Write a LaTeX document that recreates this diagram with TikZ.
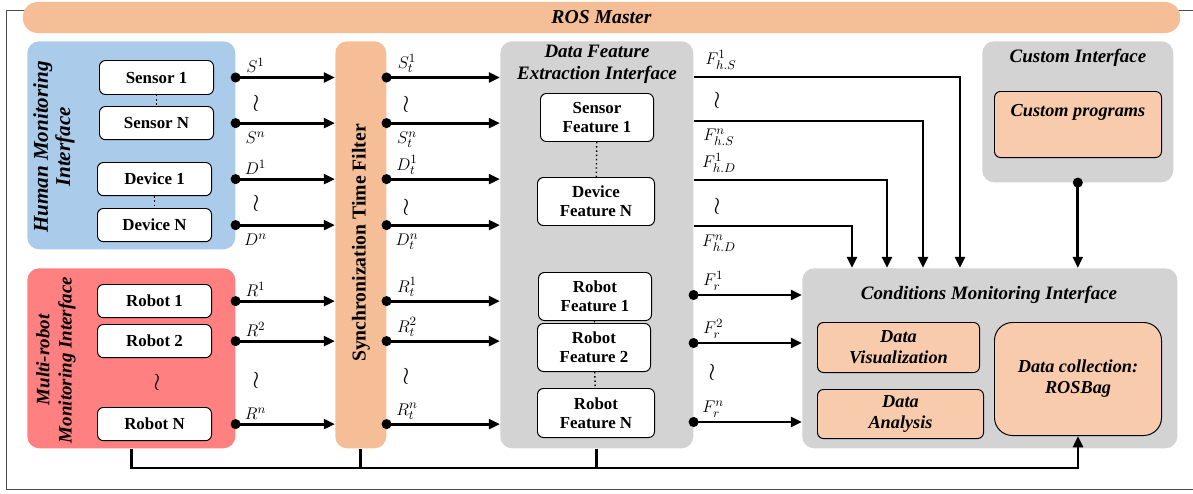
\documentclass[tikz,border=0pt]{standalone}
\usepackage{fontspec}
\setmainfont{Liberation Serif}
\usetikzlibrary{arrows.meta}

\definecolor{rospeach}{RGB}{245,190,150}
\definecolor{boxpeach}{RGB}{248,203,173}
\definecolor{hmiblue}{RGB}{170,204,234}
\definecolor{mrired}{RGB}{255,128,128}
\definecolor{ifgray}{RGB}{211,211,211}

\begin{document}
\begin{tikzpicture}[x=0.025cm, y=-0.025cm,
  grp/.style={rounded corners=0.3cm, anchor=north west, inner sep=0pt},
  item/.style={draw, line width=0.7pt, rounded corners=0.15cm, fill=white, anchor=north west, inner sep=0pt, align=center, font=\fontsize{12}{13.5}\selectfont\bfseries},
  task/.style={item, fill=boxpeach, font=\fontsize{13}{15}\selectfont\bfseries\itshape},
  title/.style={font=\fontsize{13.5}{15.5}\selectfont\bfseries\itshape, align=center},
  sig/.style={font=\fontsize{13}{14}\selectfont, inner sep=2.5pt},
  lup/.style={above},
  ldn/.style={below=3pt},
  gap/.style={font=\fontsize{16}{16}\selectfont, inner sep=0pt},
  wire/.style={line width=2pt, -{Triangle[length=8pt,width=7pt]}},
  sigline/.style={wire, {Circle[length=7pt]}-{Triangle[length=8pt,width=7pt]}, shorten <=-3.5pt},
  bus/.style={line width=2pt}
]
\useasboundingbox (0,0) rectangle (1193,494);
% outer frame and ROS master
\draw[black!70, line width=0.7pt] (1215,10) -- (6,10) -- (6,489) -- (1215,489);
\node[fill=rospeach, rounded corners=0.38cm, minimum width=28.93cm, minimum height=0.775cm, inner sep=0pt, font=\fontsize{14}{16}\selectfont\bfseries\itshape] (ros) at (601.5,17.5) {ROS Master};

% human monitoring interface
\node[grp, fill=hmiblue, minimum width=5.2cm, minimum height=5.2cm] (hmi) at (27,41) {};
\node[title, rotate=90, font=\fontsize{15}{15.8}\selectfont\bfseries\itshape] (hmilab) at (54,147) {Human Monitoring\\Interface};
\node[item, minimum width=2.85cm, minimum height=0.85cm] (sen1) at (99,60) {Sensor 1};
\node[item, minimum width=2.85cm, minimum height=0.83cm] (senN) at (99,106) {Sensor N};
\node[item, minimum width=2.85cm, minimum height=0.83cm] (dev1) at (97,162) {Device 1};
\node[item, minimum width=2.85cm, minimum height=0.83cm] (devN) at (97,208) {Device N};
\draw[dotted, line width=1pt] (sen1) -- (senN);
\draw[dotted, line width=1pt] (dev1) -- (devN);

% multi-robot monitoring interface
\node[grp, fill=mrired, minimum width=5.2cm, minimum height=4.5cm] (mri) at (27,268) {};
\node[title, rotate=90, font=\fontsize{13.5}{15.8}\selectfont\bfseries\itshape] (mrilab) at (56,360) {Multi-robot\\Monitoring Interface};
\node[item, minimum width=2.85cm, minimum height=0.83cm] (rob1) at (97,284) {Robot 1};
\node[item, minimum width=2.85cm, minimum height=0.83cm] (rob2) at (97,324) {Robot 2};
\node[item, minimum width=2.85cm, minimum height=0.83cm] (robN) at (97,407) {Robot N};

% synchronization filter
\node[grp, fill=rospeach, minimum width=1.275cm, minimum height=10.175cm] (sync) at (335,41) {};
\node[rotate=90, font=\fontsize{14}{16}\selectfont\bfseries] (synclab) at (361,243) {Synchronization Time Filter};

% data feature extraction
\node[grp, fill=ifgray, minimum width=4.825cm, minimum height=10.175cm] (dfe) at (500,41) {};
\node[title] (dfelab) at (597,64) {Data Feature\\Extraction Interface};
\node[item, minimum width=2.825cm, minimum height=1.2cm] (fsen1) at (540,93) {Sensor\\Feature 1};
\node[item, minimum width=2.925cm, minimum height=1.2cm] (fdevN) at (537,177) {Device\\Feature N};
\node[item, minimum width=2.825cm, minimum height=1.2cm] (frob1) at (538,272) {Robot\\Feature 1};
\node[item, minimum width=2.825cm, minimum height=1.2cm] (frob2) at (537,323) {Robot\\Feature 2};
\node[item, minimum width=2.925cm, minimum height=1.225cm] (frobN) at (537,388) {Robot\\Feature N};
\draw[dotted, line width=1pt] (fsen1) -- (fdevN);
\draw[dotted, line width=1pt] (frob1) -- (frob2);
\draw[dotted, line width=1pt] (frob2) -- (frobN);

% custom interface
\node[grp, fill=ifgray, minimum width=4.775cm, minimum height=3.525cm] (ci) at (982,41) {};
\node[title] (cilab) at (1078,58) {Custom Interface};
\node[task, minimum width=4.175cm, minimum height=1.65cm] (cprog) at (994,91) {};
\node[title, font=\fontsize{13}{15}\selectfont\bfseries\itshape] (cproglab) at (1078,112) {Custom programs};

% conditions monitoring interface
\node[grp, fill=ifgray, minimum width=9.375cm, minimum height=4.5cm] (cmi) at (802,268) {};
\node[title] (cmilab) at (989,295) {Conditions Monitoring Interface};
\node[task, minimum width=4.05cm, minimum height=1.25cm] (dvis) at (817,322) {Data\\Visualization};
\node[task, minimum width=4.15cm, minimum height=1.225cm] (dana) at (817,389) {Data\\Analysis};
\node[task, rounded corners=0.45cm, minimum width=4.175cm, minimum height=2.825cm] (dcol) at (994,322) {Data collection:\\ROSBag};

% signals into the filter
\foreach \n/\t/\p in {sen1/S^1/lup, senN/S^n/ldn, dev1/D^1/lup, devN/D^n/ldn, rob1/R^1/lup, rob2/R^2/lup, robN/R^n/lup}
  \draw[sigline] (\n -| hmi.east) -- (\n -| sync.west) node[sig, pos=0.2, \p] {$\t$};
% filtered signals
\foreach \n/\t/\p in {sen1/S^1_t/lup, senN/S^n_t/ldn, dev1/D^1_t/lup, devN/D^n_t/ldn, rob1/R^1_t/lup, rob2/R^2_t/lup, robN/R^n_t/lup}
  \draw[sigline] (\n -| sync.east) -- (\n -| dfe.west) node[sig, pos=0.18, \p] {$\t$};

% human features to conditions monitoring
\coordinate (fhs1) at (0,77);
\coordinate (fhsn) at (0,121);
\coordinate (fhd1) at (0,180);
\coordinate (fhdn) at (0,226);
\coordinate (drop1) at (960,0);
\coordinate (drop2) at (923,0);
\coordinate (drop3) at (887,0);
\coordinate (drop4) at (852,0);
\foreach \r/\c in {fhs1/drop1, fhsn/drop2, fhd1/drop3, fhdn/drop4}
  \draw[wire] (\r -| dfe.east) -| (\c |- cmi.north);
\node[sig] (lfhs1) at (721,60) {$F^{1}_{h.S}$};
\node[sig] (lfhsn) at (719,137) {$F^{n}_{h.S}$};
\node[sig] (lfhd1) at (719,163) {$F^{1}_{h.D}$};
\node[sig] (lfhdn) at (719,243) {$F^{n}_{h.D}$};

% robot features
\coordinate (fr1) at (0,295);
\coordinate (fr2) at (0,343);
\coordinate (frn) at (0,422);
\foreach \r/\t in {fr1/F^1_r, fr2/F^2_r, frn/F^n_r}
  \draw[sigline] (\r -| dfe.east) -- (\r -| cmi.west) node[sig, pos=0.18, above] {$\t$};

% custom programs
\draw[sigline] (ci.south) -- (ci.south |- cmi.north);

% bottom bus to ROSBag
\coordinate (busrow) at (0,468);
\draw[wire] (mri.south) |- (busrow -| dcol.south) -- (dcol.south);
\draw[bus] (sync.south) -- (sync.south |- busrow);
\draw[bus] (dfe.south) -- (dfe.south |- busrow);

% omitted entries
\foreach \x/\y [count=\i] in {256/103, 256/203, 256/380, 406/104, 406/207, 406/376, 717/100, 717/206, 712/372, 157/382}
  \node[gap] (gap\i) at (\x,\y) {$\wr$};
\end{tikzpicture}
\end{document}
